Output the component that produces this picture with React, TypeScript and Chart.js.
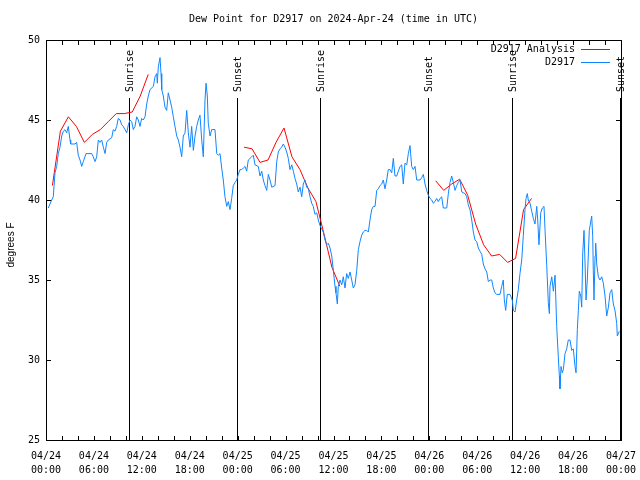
import React, { useEffect, useRef } from "react";
import { Chart, registerables } from "chart.js";

Chart.register(...registerables);

const TITLE = "Dew Point for D2917 on 2024-Apr-24 (time in UTC)";
const Y_LABEL = "degrees F";
const SERIES_ANALYSIS = "D2917 Analysis";
const SERIES_OBS = "D2917";

// x axis: hours since 2024-04-24 00:00 UTC
const X_TICK_HOURS = [0, 6, 12, 18, 24, 30, 36, 42, 48, 54, 60, 66, 72];
const X_TICK_DATES = ["04/24", "04/24", "04/24", "04/24", "04/25", "04/25", "04/25", "04/25", "04/26", "04/26", "04/26", "04/26", "04/27"];
const X_TICK_TIMES = ["00:00", "06:00", "12:00", "18:00", "00:00", "06:00", "12:00", "18:00", "00:00", "06:00", "12:00", "18:00", "00:00"];
const Y_TICKS = [25, 30, 35, 40, 45, 50];

const SUN_HOURS = [10.43, 23.88, 34.35, 47.87, 58.39, 71.9];
const SUN_LABELS = ["Sunrise", "Sunset", "Sunrise", "Sunset", "Sunrise", "Sunset"];

const obsHours = [
  0.29, 0.71, 0.91, 1.13, 1.34, 1.54, 1.75, 1.97, 2.17, 2.38, 2.59, 2.79, 3.01, 3.09, 3.63, 3.84, 4.04, 4.26, 4.47, 4.67,
  5.01, 5.72, 5.92, 6.14, 6.35, 6.55, 6.76, 6.97, 7.18, 7.39, 7.6, 7.8, 8.23, 8.43, 8.64, 8.85, 9.05, 9.27, 9.48, 9.68,
  9.89, 10.11, 10.31, 10.52, 10.73, 10.93, 11.14, 11.36, 11.56, 11.77, 11.98, 12.18, 12.4, 12.61, 12.81, 13.02, 13.44, 13.65, 13.86, 13.94,
  14.06, 14.28, 14.4, 14.49, 14.69, 14.9, 15.11, 15.31, 15.53, 15.74, 15.94, 16.15, 16.37, 16.57, 16.78, 16.99, 17.19, 17.41, 17.62, 17.82,
  18.03, 18.24, 18.45, 18.66, 18.87, 19.07, 19.28, 19.5, 19.7, 19.91, 20.04, 20.2, 20.32, 20.54, 20.75, 21.16, 21.38, 21.58, 21.79, 22.0,
  22.2, 22.41, 22.63, 22.83, 23.04, 23.25, 23.45, 23.67, 23.88, 24.08, 24.29, 24.51, 24.71, 24.92, 25.13, 25.33, 25.55, 25.76, 25.96, 26.17,
  26.58, 26.8, 27.01, 27.21, 27.42, 27.64, 27.84, 28.05, 28.27, 28.68, 28.89, 29.09, 29.3, 29.51, 29.72, 29.93, 30.14, 30.34, 30.55, 30.77,
  30.97, 31.18, 31.39, 31.59, 31.81, 32.02, 32.22, 32.43, 32.65, 32.85, 33.06, 33.27, 33.47, 33.68, 33.9, 34.1, 34.31, 34.52, 34.72, 34.94,
  35.15, 35.35, 35.56, 35.78, 35.98, 36.19, 36.31, 36.48, 36.6, 36.82, 37.03, 37.23, 37.44, 37.65, 37.85, 38.07, 38.28, 38.48, 38.69, 38.91,
  39.11, 39.32, 39.53, 39.73, 39.95, 40.16, 40.36, 40.57, 40.78, 40.99, 41.2, 41.41, 41.61, 41.82, 42.04, 42.24, 42.45, 42.66, 42.86, 43.08,
  43.29, 43.49, 43.7, 43.92, 44.12, 44.33, 44.54, 44.74, 44.95, 45.17, 45.37, 45.58, 45.79, 45.99, 46.21, 46.42, 46.83, 47.05, 47.25, 47.46,
  47.67, 47.87, 48.09, 48.3, 48.5, 48.71, 48.92, 49.12, 49.34, 49.55, 49.75, 50.18, 50.38, 50.59, 50.8, 51.0, 51.22, 51.43, 51.63, 51.84,
  52.06, 52.47, 52.68, 52.88, 53.09, 53.31, 53.51, 53.72, 53.93, 54.13, 54.35, 54.56, 54.76, 54.97, 55.19, 55.39, 55.6, 55.81, 56.01, 56.22,
  56.44, 56.85, 57.06, 57.26, 57.39, 57.56, 57.76, 58.1, 58.39, 58.52, 58.73, 58.94, 59.14, 59.35, 59.57, 59.77, 59.98, 60.11, 60.27, 60.39,
  60.61, 60.82, 61.02, 61.23, 61.45, 61.57, 61.73, 61.95, 62.15, 62.36, 62.49, 62.7, 62.9, 63.03, 63.11, 63.33, 63.53, 63.74, 63.95, 64.15,
  64.28, 64.36, 64.49, 64.65, 64.78, 64.99, 65.2, 65.4, 65.61, 65.83, 66.03, 66.24, 66.37, 66.53, 66.66, 66.78, 66.96, 67.08, 67.21, 67.37,
  67.5, 67.62, 67.78, 68.03, 68.33, 68.46, 68.53, 68.62, 68.75, 68.83, 68.96, 69.16, 69.37, 69.59, 69.79, 70.0, 70.21, 70.42, 70.63, 70.84,
  71.04, 71.25, 71.46, 71.54, 71.79,
];

const obsValues = [
  39.5, 40.0, 40.2, 41.7, 42.1, 42.9, 43.3, 44.0, 44.3, 44.4, 44.2, 44.6, 43.75, 43.5, 43.5, 43.6, 42.8, 42.5, 42.1, 42.4,
  42.9, 42.9, 42.7, 42.4, 42.7, 43.75, 43.6, 43.75, 43.3, 42.9, 43.6, 43.75, 43.9, 44.4, 44.3, 44.6, 45.1, 45.0, 44.7, 44.6,
  44.4, 44.2, 44.7, 45.0, 44.9, 44.4, 44.6, 45.2, 45.0, 44.6, 45.1, 45.0, 45.2, 46.0, 46.5, 46.9, 47.1, 47.7, 47.9, 47.3,
  48.3, 48.9, 47.9, 46.9, 46.5, 45.8, 45.6, 46.7, 46.25, 45.8, 45.2, 44.6, 44.0, 43.75, 43.3, 42.7, 44.0, 44.2, 45.6, 44.2,
  43.3, 44.6, 43.1, 44.0, 44.6, 45.0, 45.3, 43.75, 42.7, 46.25, 47.3, 46.5, 44.8, 44.0, 44.4, 44.4, 42.9, 42.8, 42.9, 42.0,
  41.25, 40.2, 39.6, 39.9, 39.4, 40.1, 40.9, 41.1, 41.25, 41.6, 41.9, 41.9, 42.0, 42.1, 41.8, 42.5, 42.6, 42.7, 42.8, 42.2,
  42.1, 41.5, 41.8, 41.25, 40.9, 40.6, 41.6, 41.25, 40.8, 40.9, 42.4, 43.0, 43.2, 43.3, 43.5, 43.3, 43.0, 42.6, 41.9, 42.2,
  41.8, 41.35, 41.0, 40.5, 40.8, 40.2, 41.0, 41.25, 40.8, 40.7, 40.2, 39.8, 39.6, 39.1, 39.2, 38.75, 38.4, 38.2, 38.0, 37.5,
  37.2, 37.3, 37.0, 36.5, 35.6, 34.6, 34.2, 33.5, 34.6, 35.0, 34.7, 35.2, 34.5, 35.4, 35.1, 35.5, 35.0, 34.5, 34.7, 35.6,
  36.9, 37.4, 37.8, 38.0, 38.1, 38.1, 38.0, 38.75, 39.4, 39.6, 39.6, 40.6, 40.7, 40.9, 41.0, 41.25, 40.7, 41.25, 41.9, 41.9,
  41.7, 42.6, 41.5, 41.5, 41.8, 42.1, 42.2, 41.0, 42.3, 42.2, 42.9, 43.4, 42.1, 41.9, 42.1, 41.25, 41.25, 41.4, 41.6, 41.0,
  40.6, 40.3, 40.1, 40.0, 39.8, 39.9, 40.1, 39.9, 40.1, 40.2, 39.5, 39.5, 40.4, 41.1, 41.5, 41.1, 40.6, 40.9, 41.1, 41.25,
  40.5, 40.4, 40.2, 39.7, 39.4, 38.75, 38.0, 37.5, 37.4, 37.0, 36.8, 36.6, 36.0, 35.7, 35.5, 34.9, 35.0, 35.0, 34.5, 34.2,
  34.1, 34.1, 34.6, 35.0, 33.75, 33.1, 34.1, 34.1, 33.75, 33.1, 33.0, 33.75, 34.4, 35.4, 36.25, 37.8, 39.4, 40.1, 40.4, 40.0,
  39.8, 39.3, 38.85, 38.5, 39.6, 38.75, 37.2, 39.2, 39.5, 39.6, 38.1, 35.9, 33.6, 32.9, 34.6, 35.2, 34.3, 35.3, 32.1, 30.2,
  29.0, 28.2, 29.6, 29.2, 29.4, 30.4, 30.7, 31.25, 31.25, 30.6, 30.7, 29.6, 29.2, 31.9, 33.1, 34.3, 34.0, 33.3, 36.7, 38.1,
  36.0, 33.75, 35.0, 38.1, 39.0, 37.7, 35.6, 33.75, 36.5, 37.3, 36.0, 35.2, 35.0, 35.2, 34.8, 34.0, 32.75, 33.3, 34.2, 34.4,
  33.5, 33.1, 32.3, 31.5, 31.8,
];

// hourly analysis, three 12-hour runs (null = gap)
const anaHours = [
  0.8, 1.8, 2.8, 3.8, 4.8, 5.8, 6.8, 7.8, 8.8, 9.8, 10.8, 11.8, 12.8,
  18.8,
  24.8, 25.8, 26.8, 27.8, 28.8, 29.8, 30.8, 31.8, 32.8, 33.8, 34.8, 35.8, 36.8,
  42.8,
  48.8, 49.8, 50.8, 51.8, 52.8, 53.8, 54.8, 55.8, 56.8, 57.8, 58.8, 59.8, 60.8,
];
const anaValues = [
  40.9, 44.3, 45.2, 44.6, 43.6, 44.1, 44.4, 44.9, 45.4, 45.4, 45.5, 46.5, 47.85,
  null,
  43.3, 43.2, 42.35, 42.5, 43.6, 44.5, 42.7, 41.9, 40.75, 39.9, 37.9, 35.8, 34.6,
  null,
  41.2, 40.6, 41.0, 41.3, 40.3, 38.5, 37.2, 36.5, 36.6, 36.1, 36.35, 39.4, 40.1,
];

const RED = "#ff0000";
const BLUE = "#0f86ff";
const MONO = "'DejaVu Sans Mono', monospace";
const SANS = "'Liberation Sans', Arial, sans-serif";

const decorPlugin = {
  id: "decor",
  beforeDatasetsDraw(chart: any) {
    const { ctx, chartArea, scales } = chart;
    const xs = scales.x;
    ctx.save();
    ctx.strokeStyle = "#000";
    ctx.lineWidth = 1;
    ctx.fillStyle = "#000";
    ctx.font = `10px ${MONO}`;
    SUN_HOURS.forEach((h, i) => {
      const x = Math.round(xs.getPixelForValue(h)) + 0.5;
      ctx.beginPath();
      ctx.moveTo(x, chartArea.top + 58);
      ctx.lineTo(x, chartArea.bottom);
      ctx.stroke();
      ctx.save();
      ctx.translate(x + 1, chartArea.top + 52);
      ctx.rotate(-Math.PI / 2);
      ctx.textAlign = "left";
      ctx.textBaseline = "middle";
      ctx.fillText(SUN_LABELS[i], 0, 0);
      ctx.restore();
    });
    ctx.restore();
  },
  afterDraw(chart: any) {
    const { ctx, chartArea, scales } = chart;
    const xs = scales.x;
    const ys = scales.y;
    const { left, right, top, bottom } = chartArea;
    ctx.save();
    ctx.strokeStyle = "#000";
    ctx.lineWidth = 1;
    ctx.strokeRect(left + 0.5, top + 0.5, right - left, bottom - top);
    // inner ticks
    ctx.beginPath();
    for (let h = 0; h <= 72; h += 2) {
      const x = Math.round(xs.getPixelForValue(h)) + 0.5;
      ctx.moveTo(x, bottom);
      ctx.lineTo(x, bottom - 4);
      ctx.moveTo(x, top);
      ctx.lineTo(x, top + 5);
    }
    Y_TICKS.forEach((v) => {
      const y = Math.round(ys.getPixelForValue(v)) + 0.5;
      ctx.moveTo(left, y);
      ctx.lineTo(left + 5, y);
      ctx.moveTo(right, y);
      ctx.lineTo(right - 5, y);
    });
    ctx.stroke();

    // title
    ctx.fillStyle = "#000";
    ctx.font = `10px ${MONO}`;
    ctx.textAlign = "center";
    ctx.textBaseline = "middle";
    ctx.fillText(TITLE, (left + right) / 2, 19);

    // y label
    ctx.save();
    ctx.translate(11, 245);
    ctx.rotate(-Math.PI / 2);
    ctx.font = `10px ${SANS}`;
    ctx.textAlign = "center";
    ctx.textBaseline = "middle";
    ctx.fillText(Y_LABEL, 0, 0);
    ctx.restore();

    // legend
    ctx.font = `10px ${MONO}`;
    ctx.textAlign = "right";
    ctx.textBaseline = "middle";
    const legend = [
      { label: SERIES_ANALYSIS, color: RED, y: 49 },
      { label: SERIES_OBS, color: BLUE, y: 62 },
    ];
    legend.forEach((it) => {
      ctx.fillStyle = "#000";
      ctx.fillText(it.label, 575, it.y);
      ctx.strokeStyle = it.color;
      ctx.beginPath();
      ctx.moveTo(581, it.y + 0.5);
      ctx.lineTo(610, it.y + 0.5);
      ctx.stroke();
    });
    ctx.restore();
  },
};

export default function App() {
  const canvasRef = useRef<HTMLCanvasElement | null>(null);

  useEffect(() => {
    document.body.style.margin = "0";
    const canvas = canvasRef.current;
    if (!canvas) return;
    const chart = new Chart(canvas, {
      type: "line",
      data: {
        datasets: [
          {
            label: SERIES_OBS,
            data: obsHours.map((h, i) => ({ x: h, y: obsValues[i] })),
            borderColor: BLUE,
            borderWidth: 1,
            pointRadius: 0,
            tension: 0,
            fill: false,
          },
          {
            label: SERIES_ANALYSIS,
            data: anaHours.map((h, i) => ({ x: h, y: anaValues[i] })),
            borderColor: RED,
            borderWidth: 1,
            pointRadius: 0,
            tension: 0,
            fill: false,
            spanGaps: false,
          },
        ],
      },
      options: {
        responsive: false,
        animation: false,
        events: [],
        layout: { padding: { left: 0, right: 19, top: 40, bottom: 0 } },
        plugins: {
          legend: { display: false },
          title: { display: false },
          tooltip: { enabled: false },
        },
        scales: {
          x: {
            type: "linear",
            min: 0,
            max: 72,
            afterBuildTicks: (s: any) => {
              s.ticks = X_TICK_HOURS.map((v) => ({ value: v }));
            },
            afterFit: (s: any) => {
              s.height = 40;
              s.paddingLeft = 0;
              s.paddingRight = 0;
            },
            grid: { display: false, drawTicks: false },
            border: { display: false },
            ticks: {
              autoSkip: false,
              maxRotation: 0,
              minRotation: 0,
              padding: 9,
              color: "#000",
              font: { family: MONO, size: 10, lineHeight: 1.4 },
              callback: (_v: any, i: number) => [X_TICK_DATES[i], X_TICK_TIMES[i]],
            },
          },
          y: {
            type: "linear",
            min: 25,
            max: 50,
            afterBuildTicks: (s: any) => {
              s.ticks = Y_TICKS.map((v) => ({ value: v }));
            },
            afterFit: (s: any) => {
              s.width = 46;
              s.paddingTop = 0;
              s.paddingBottom = 0;
            },
            grid: { display: false, drawTicks: false },
            border: { display: false },
            ticks: {
              padding: 6,
              color: "#000",
              font: { family: MONO, size: 10 },
            },
          },
        },
      },
      plugins: [decorPlugin],
    } as any);
    return () => chart.destroy();
  }, []);

  return <canvas ref={canvasRef} width={640} height={480} style={{ display: "block" }} />;
}
